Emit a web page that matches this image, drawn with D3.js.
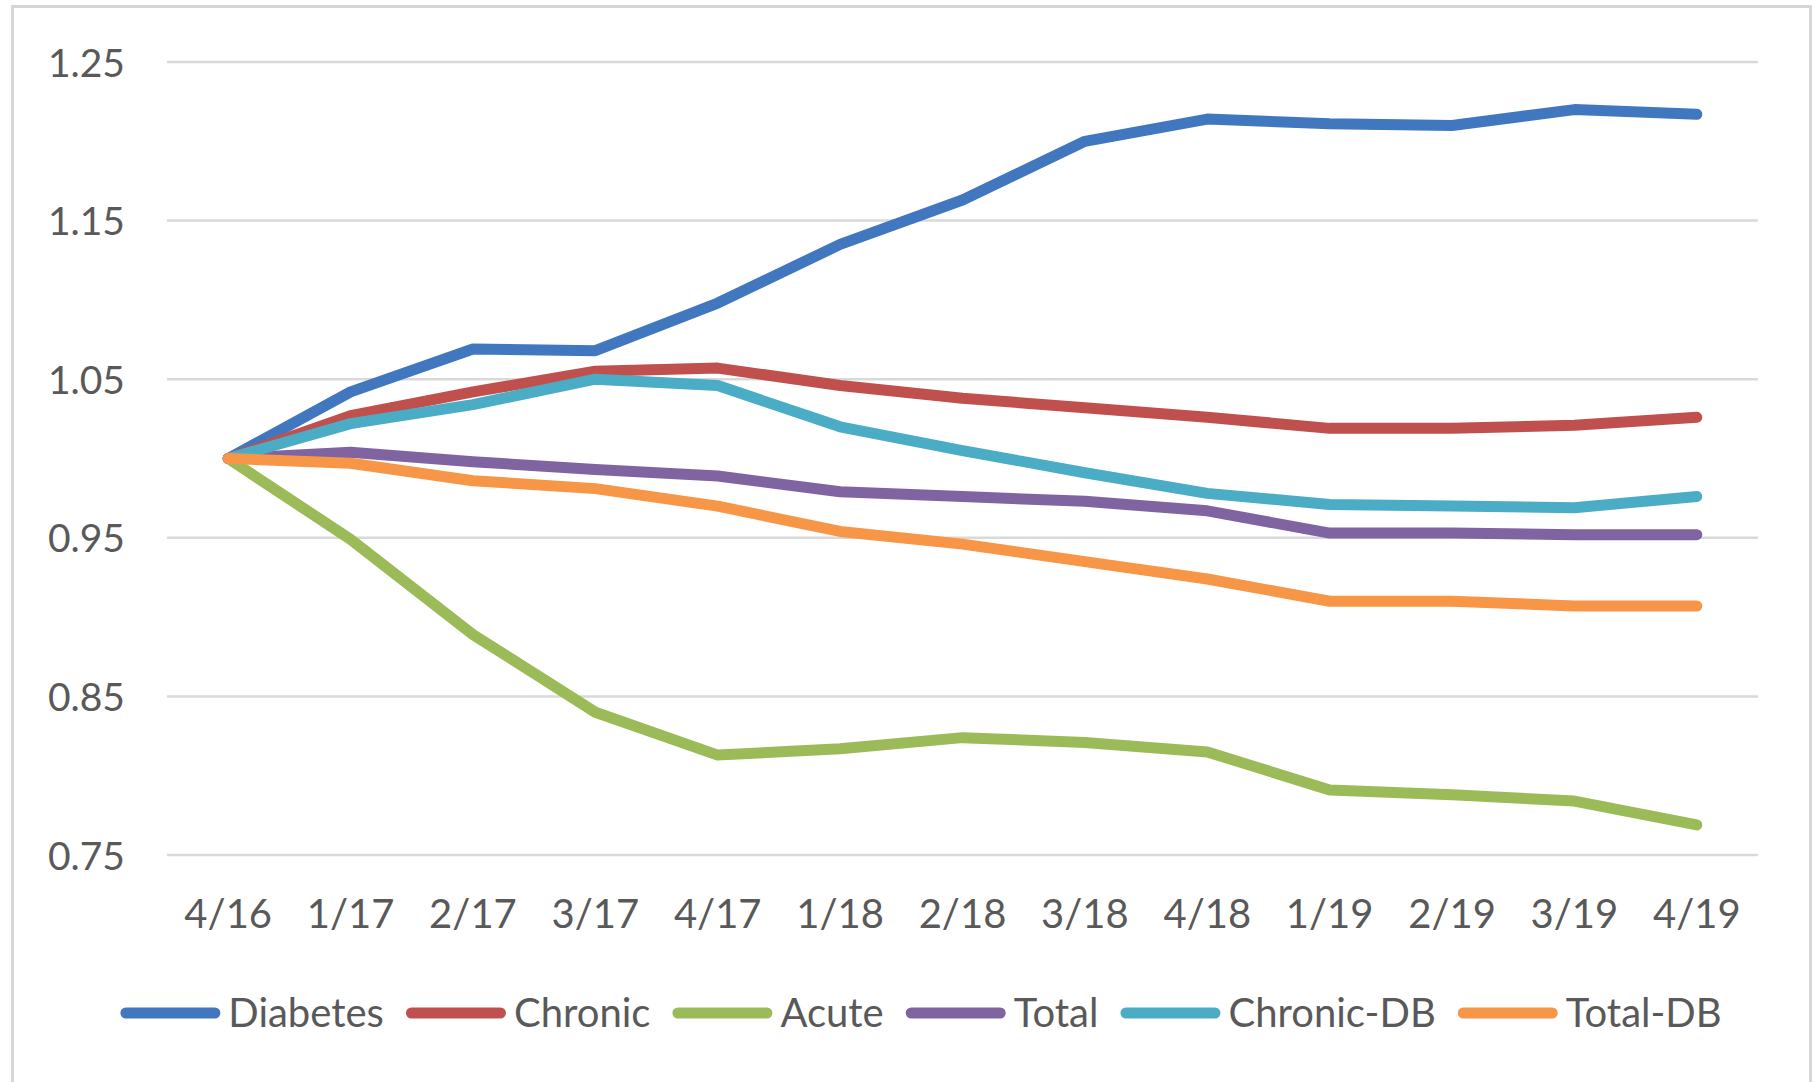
<!DOCTYPE html>
<html>
<head>
<meta charset="utf-8">
<script src="https://cdn.jsdelivr.net/npm/d3@7"></script>
<style>
  html, body { margin: 0; padding: 0; background: #fff; }
  svg { display: block; }
  text { font-family: Lato, "Open Sans", sans-serif; fill: #595959; }
</style>
</head>
<body>
<svg id="chart" width="1814" height="1082"></svg>
<script>
// Quarter labels along the x axis
const periods = ["4/16", "1/17", "2/17", "3/17", "4/17", "1/18", "2/18", "3/18", "4/18", "1/19", "2/19", "3/19", "4/19"];

// Index values relative to 4/16 (= 1.00)
const diabetes  = [1.000, 1.042, 1.069, 1.068, 1.098, 1.135, 1.163, 1.200, 1.214, 1.211, 1.210, 1.220, 1.217];
const chronic   = [1.000, 1.027, 1.042, 1.055, 1.057, 1.046, 1.038, 1.032, 1.026, 1.019, 1.019, 1.021, 1.026];
const acute     = [1.000, 0.949, 0.889, 0.840, 0.813, 0.817, 0.824, 0.821, 0.815, 0.791, 0.788, 0.784, 0.769];
const total     = [1.000, 1.004, 0.998, 0.993, 0.989, 0.979, 0.976, 0.973, 0.967, 0.953, 0.953, 0.952, 0.952];
const chronicDB = [1.000, 1.022, 1.034, 1.050, 1.046, 1.020, 1.005, 0.991, 0.978, 0.971, 0.970, 0.969, 0.976];
const totalDB   = [1.000, 0.997, 0.986, 0.981, 0.970, 0.954, 0.946, 0.935, 0.924, 0.910, 0.910, 0.907, 0.907];

// Y axis ticks
const yTicks = [0.75, 0.85, 0.95, 1.05, 1.15, 1.25];

const seriesNames  = ["Diabetes", "Chronic", "Acute", "Total", "Chronic-DB", "Total-DB"];
const seriesValues = [diabetes, chronic, acute, total, chronicDB, totalDB];
const seriesColors = ["#4177be", "#c0504d", "#9bbb59", "#8064a2", "#4bacc6", "#f79646"];

const series = seriesNames.map((name, i) => ({ name, values: seriesValues[i], color: seriesColors[i] }));

const svg = d3.select("#chart");
const W = 1814, H = 1082;

// Outer chart frame
svg.append("rect")
  .attr("x", 12.5).attr("y", 6.5)
  .attr("width", 1798).attr("height", H + 10)
  .attr("fill", "#fff")
  .attr("stroke", "#d6d6d6")
  .attr("stroke-width", 3);

const plot = { left: 167, right: 1758, top: 62, bottom: 855 };

const x = d3.scaleBand().domain(periods).range([plot.left, plot.right]);
const y = d3.scaleLinear().domain([0.75, 1.25]).range([plot.bottom, plot.top]);
const xc = d => x(d) + x.bandwidth() / 2;

// Horizontal gridlines
svg.append("g")
  .selectAll("line")
  .data(yTicks)
  .join("line")
  .attr("x1", plot.left).attr("x2", plot.right)
  .attr("y1", d => y(d)).attr("y2", d => y(d))
  .attr("stroke", "#d9d9d9")
  .attr("stroke-width", 2.5);

// Y axis labels
const yAxis = d3.axisLeft(y).tickValues(yTicks).tickFormat(d3.format(".2f")).tickSize(0).tickPadding(0);
const gy = svg.append("g").attr("transform", "translate(125,0)").call(yAxis);
gy.select(".domain").remove();
gy.selectAll("text")
  .attr("font-size", 39)
  .attr("font-family", "Lato, sans-serif")
  .attr("fill", "#595959")
  .attr("dy", "0.36em");

// X axis labels
const xAxis = d3.axisBottom(x).tickSize(0).tickPadding(0);
const gx = svg.append("g").attr("transform", "translate(0,899)").call(xAxis);
gx.select(".domain").remove();
gx.selectAll("text")
  .attr("font-size", 40)
  .attr("font-family", "Lato, sans-serif")
  .attr("fill", "#595959")
  .attr("dy", "0.72em");

// Series lines
const line = d3.line()
  .x((d, i) => xc(periods[i]))
  .y(d => y(d));

svg.append("g")
  .selectAll("path")
  .data(series)
  .join("path")
  .attr("d", d => line(d.values))
  .attr("fill", "none")
  .attr("stroke", d => d.color)
  .attr("stroke-width", 11)
  .attr("stroke-linejoin", "round")
  .attr("stroke-linecap", "round");

// Legend, centred under the plot
const legend = svg.append("g");
const legendY = 1013;
const swatch = 100, gapText = 8, gapItem = 22;
let cx = 0;
const items = legend.selectAll("g")
  .data(series)
  .join("g");
items.append("line")
  .attr("x1", 5.5).attr("x2", swatch - 5.5)
  .attr("y1", 0).attr("y2", 0)
  .attr("stroke", d => d.color)
  .attr("stroke-width", 11)
  .attr("stroke-linecap", "round");
items.append("text")
  .attr("x", swatch + gapText)
  .attr("y", 0)
  .attr("dy", "0.36em")
  .attr("font-size", 40)
  .attr("fill", "#595959")
  .text(d => d.name);
items.each(function() {
  const g = d3.select(this);
  const w = swatch + gapText + g.select("text").node().getComputedTextLength();
  g.attr("transform", `translate(${cx},${legendY})`);
  cx += w + gapItem;
});
const legendWidth = cx - gapItem;
legend.attr("transform", `translate(${921 - legendWidth / 2},0)`);
</script>
</body>
</html>
